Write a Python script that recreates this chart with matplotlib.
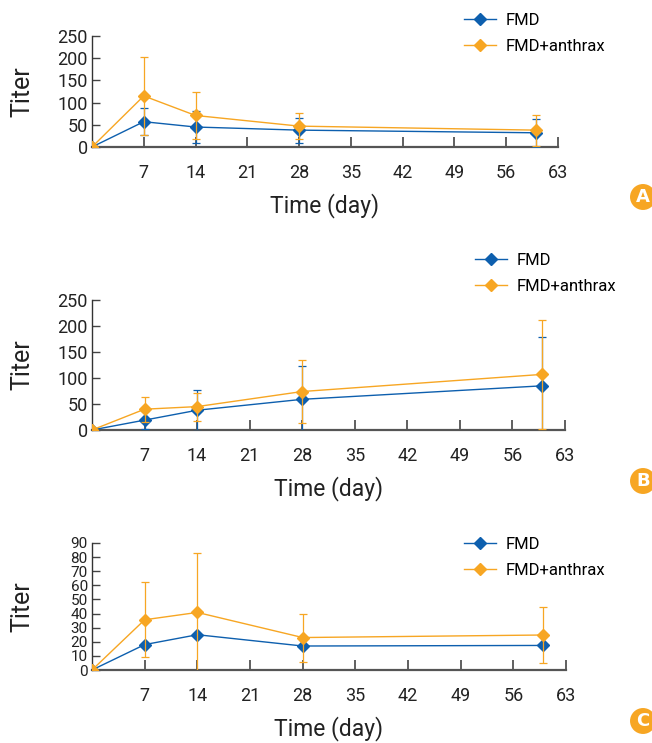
import matplotlib
matplotlib.use('Agg')
import matplotlib.pyplot as plt

plt.rcParams['font.family'] = ['Liberation Sans Narrow', 'Roboto', 'DejaVu Sans']

# data
days = [0, 7, 14, 28, 60]

fmd_a = [0, 57, 45, 38, 32]
fmd_a_sd = [0, 31, 35, 28, 32]
anth_a = [0, 115, 71, 47, 38]
anth_a_sd = [0, 87, 53, 30, 35]

fmd_b = [0, 19, 38, 59, 85]
fmd_b_sd = [0, 17, 39, 65, 94]
anth_b = [0, 40, 45, 74, 107]
anth_b_sd = [0, 24, 27, 61, 105]

fmd_c = [0, 18, 25, 17, 17.4]
anth_c = [0, 35.6, 40.8, 23, 24.8]
anth_c_sd = [0, 26.5, 42, 17, 20]

xticks = [7, 14, 21, 28, 35, 42, 49, 56, 63]
yticks_ab = [0, 50, 100, 150, 200, 250]
yticks_c = [0, 10, 20, 30, 40, 50, 60, 70, 80, 90]

BLUE = '#0d5fae'
ORANGE = '#f7a623'
W, H = 652, 743


def draw_panel(rect, fmd, fmd_sd, anth, anth_sd, yticks, leg_pos, letter, letter_y,
               ysize=13):
    ax = fig.add_axes(rect)
    ax.errorbar(days, fmd, yerr=fmd_sd, color=BLUE, marker='D', ms=6.5,
                lw=1.0, elinewidth=0.9, capsize=3, capthick=0.9, label='FMD', zorder=3)
    ax.errorbar(days, anth, yerr=anth_sd, color=ORANGE, marker='D', ms=6.5,
                lw=1.0, elinewidth=0.9, capsize=3, capthick=0.9, label='FMD+anthrax', zorder=4)
    ax.set_xlim(0, 63)
    ax.set_ylim(0, yticks[-1])
    ax.set_xticks(xticks)
    ax.set_yticks(yticks)
    for s in ['top', 'right']:
        ax.spines[s].set_visible(False)
    ax.spines['bottom'].set_color('#555555')
    ax.spines['bottom'].set_linewidth(1.6)
    ax.spines['left'].set_color('#333333')
    ax.spines['left'].set_linewidth(1.0)
    ax.tick_params(axis='x', direction='in', length=7, width=1.2, color='#444444',
                   labelsize=13, pad=12, labelcolor='#222222')
    ax.tick_params(axis='y', direction='in', length=6, width=1.0, color='#444444',
                   labelsize=ysize, pad=3, labelcolor='#222222')
    ax.set_xlabel('Time (day)', fontsize=16.5, color='#222222', labelpad=8)
    ax.set_ylabel('Titer', fontsize=18, color='#222222')
    ax.yaxis.set_label_coords(-58 / (rect[2] * W), 0.5)
    handles, labels = ax.get_legend_handles_labels()
    handles = [h[0] for h in handles]
    ax.legend(handles, labels, loc='upper left', bbox_to_anchor=leg_pos,
              bbox_transform=fig.transFigure, frameon=False, fontsize=12,
              borderpad=0, borderaxespad=0, handlelength=1.9, handletextpad=0.6,
              labelspacing=0.65)
    fig.text(643 / W, 1 - letter_y / H, letter, ha='center', va='center',
             color='white', fontweight='bold', fontsize=13, family='DejaVu Sans',
             bbox=dict(boxstyle='circle,pad=0.22', fc=ORANGE, ec='none'))
    return ax


fig = plt.figure(figsize=(W / 100, H / 100), dpi=100)

draw_panel([92 / W, 1 - 147 / H, 466 / W, 111 / H], fmd_a, fmd_a_sd, anth_a, anth_a_sd,
           yticks_ab, (464 / W, 1 - 13 / H), 'A', 197)
draw_panel([92 / W, 1 - 430 / H, 473 / W, 130 / H], fmd_b, fmd_b_sd, anth_b, anth_b_sd,
           yticks_ab, (475 / W, 1 - 253 / H), 'B', 481)
draw_panel([92 / W, 1 - 670 / H, 474 / W, 127 / H], fmd_c, None, anth_c, anth_c_sd,
           yticks_c, (464 / W, 1 - 537 / H), 'C', 721, ysize=11)

fig.savefig('out.png', dpi=100)
